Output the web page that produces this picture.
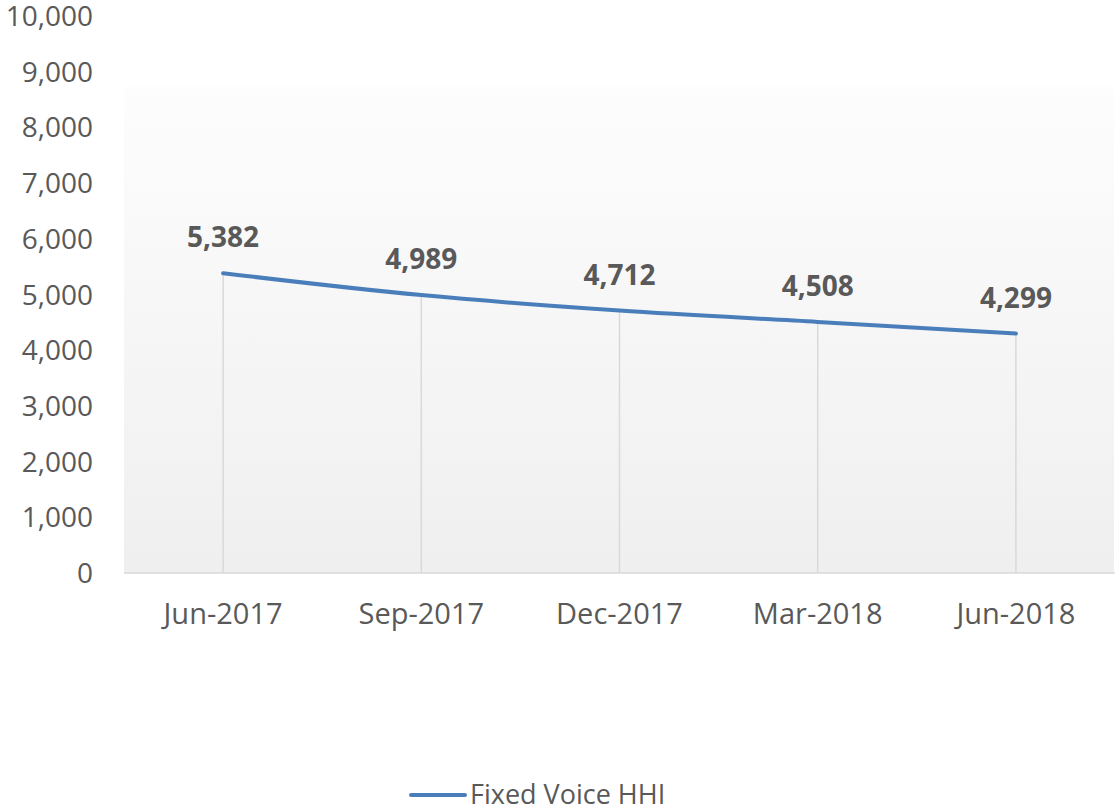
<!DOCTYPE html>
<html>
<head>
<meta charset="utf-8">
<script src="https://cdn.jsdelivr.net/npm/d3@7"></script>
<style>
  body { margin: 0; background: #fff; }
  text { font-family: "Open Sans", sans-serif; fill: #595959; }
</style>
</head>
<body>
<div class="chart"></div>
<script>
const categories = ['Jun-2017', 'Sep-2017', 'Dec-2017', 'Mar-2018', 'Jun-2018'];
const hhiValues = [5382, 4989, 4712, 4508, 4299];
const yTicks = [0, 1000, 2000, 3000, 4000, 5000, 6000, 7000, 8000, 9000, 10000];
const seriesName = 'Fixed Voice HHI';

const width = 1115;
const height = 812;
const lineColor = '#4a7ebb';

const svg = d3
  .select('.chart')
  .append('svg')
  .attr('width', width)
  .attr('height', height);

const x = d3
  .scaleBand()
  .domain(categories)
  .range([124, 1115]);

const y = d3
  .scaleLinear()
  .domain([0, 10000])
  .range([573, 16]);

// plot area background gradient
const defs = svg.append('defs');
const grad = defs
  .append('linearGradient')
  .attr('id', 'bg')
  .attr('x1', 0)
  .attr('y1', 0)
  .attr('x2', 0)
  .attr('y2', 1);
grad.append('stop').attr('offset', '0%').attr('stop-color', '#fdfdfd');
grad.append('stop').attr('offset', '100%').attr('stop-color', '#efefef');

svg
  .append('rect')
  .attr('x', 124)
  .attr('y', 87)
  .attr('width', 990)
  .attr('height', y(0) - 87)
  .attr('fill', 'url(#bg)');

const data = categories.map((c, i) => ({ cat: c, value: hhiValues[i] }));
const cx = d => x(d.cat) + x.bandwidth() / 2;

// drop lines
svg
  .selectAll('.drop')
  .data(data)
  .enter()
  .append('line')
  .attr('class', 'drop')
  .attr('x1', cx)
  .attr('x2', cx)
  .attr('y1', d => y(d.value))
  .attr('y2', y(0))
  .attr('stroke', '#d9d9d9')
  .attr('stroke-width', 1.5);

// x axis line
svg
  .append('line')
  .attr('x1', 124)
  .attr('x2', 1115)
  .attr('y1', y(0))
  .attr('y2', y(0))
  .attr('stroke', '#d9d9d9')
  .attr('stroke-width', 1.5);

// y tick labels
svg
  .selectAll('.ytick')
  .data(yTicks)
  .enter()
  .append('text')
  .attr('class', 'ytick')
  .attr('x', 93)
  .attr('y', d => y(d) + 10)
  .attr('text-anchor', 'end')
  .style('font-size', '28px')
  .text(d => d3.format(',')(d));

// x tick labels
svg
  .selectAll('.xtick')
  .data(categories)
  .enter()
  .append('text')
  .attr('class', 'xtick')
  .attr('x', d => x(d) + x.bandwidth() / 2)
  .attr('y', 624)
  .attr('text-anchor', 'middle')
  .style('font-size', '29px')
  .text(d => d);

// the line
const line = d3
  .line()
  .x(cx)
  .y(d => y(d.value))
  .curve(d3.curveMonotoneX);

svg
  .append('path')
  .datum(data)
  .attr('d', line)
  .attr('fill', 'none')
  .attr('stroke', lineColor)
  .attr('stroke-width', 4)
  .attr('stroke-linecap', 'round');

// data labels
svg
  .selectAll('.label')
  .data(data)
  .enter()
  .append('text')
  .attr('class', 'label')
  .attr('x', cx)
  .attr('y', d => y(d.value) - 26)
  .attr('text-anchor', 'middle')
  .style('font-size', '28px')
  .style('font-weight', 'bold')
  .text(d => d3.format(',')(d.value));

// legend
const legend = svg.append('g').attr('transform', 'translate(411, 795)');
legend
  .append('line')
  .attr('x1', 0)
  .attr('x2', 54)
  .attr('stroke', lineColor)
  .attr('stroke-width', 4)
  .attr('stroke-linecap', 'round');
legend
  .append('text')
  .attr('x', 59)
  .attr('y', 9)
  .style('font-size', '27px')
  .text(seriesName);
</script>
</body>
</html>
